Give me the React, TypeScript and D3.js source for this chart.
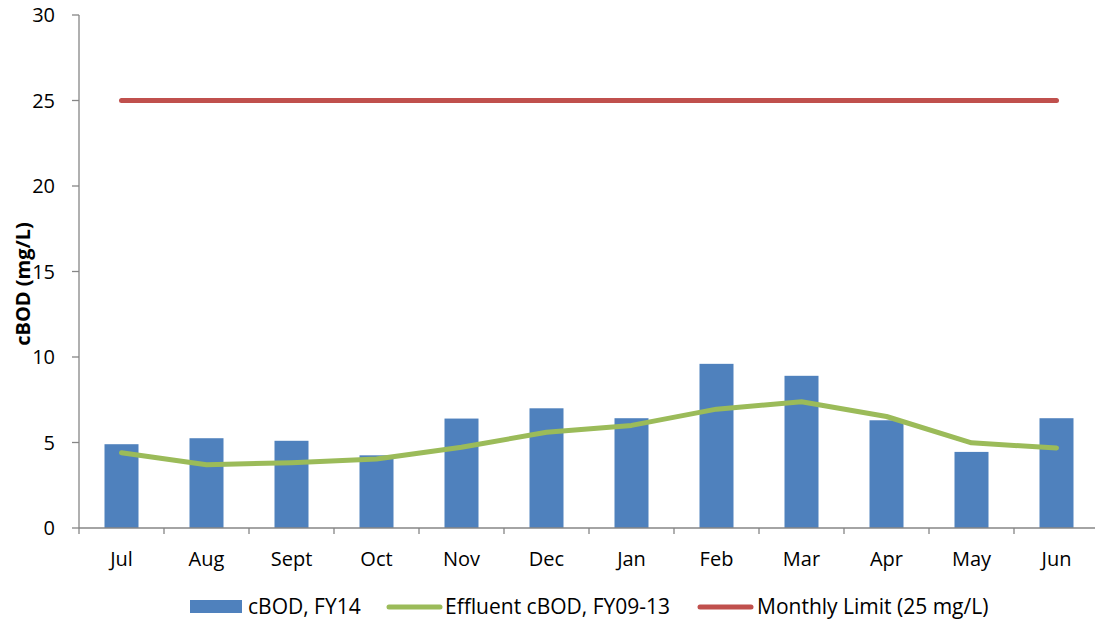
import React from "react";
import * as d3 from "d3";

const months = ["Jul", "Aug", "Sept", "Oct", "Nov", "Dec", "Jan", "Feb", "Mar", "Apr", "May", "Jun"];
const cbodFY14 = [4.9, 5.25, 5.1, 4.25, 6.4, 7.0, 6.42, 9.6, 8.9, 6.3, 4.45, 6.42];
const effluentFY0913 = [4.4, 3.7, 3.82, 4.04, 4.72, 5.6, 6.0, 6.95, 7.38, 6.52, 4.98, 4.68];
const monthlyLimit = [25, 25, 25, 25, 25, 25, 25, 25, 25, 25, 25, 25];
const yTicks = [0, 5, 10, 15, 20, 25, 30];
const legendLabels = ["cBOD, FY14", "Effluent cBOD, FY09-13", "Monthly Limit (25 mg/L)"];

const W = 1095;
const H = 631;
const FONT = "'Open Sans', 'Noto Sans', sans-serif";
const BLUE = "#4F81BD";
const GREEN = "#9BBB59";
const RED = "#C0504D";
const AXIS = "#868686";

export default function App() {
  const x = d3.scaleBand<string>().domain(months).range([79, 1099]).paddingInner(0.6).paddingOuter(0.3);
  const y = d3.scaleLinear().domain([0, 30]).range([528, 15]);
  const step = x.step();
  const cx = (m: string) => (x(m) as number) + x.bandwidth() / 2;

  const line = d3
    .line<number>()
    .x((_, i) => cx(months[i]))
    .y((d) => y(d));

  const boundaries = d3.range(months.length + 1).map((i) => 79 + i * step);

  return (
    <svg
      width={W}
      height={H}
      style={{ position: "absolute", left: 0, top: 0, background: "#fff" }}
      fontFamily={FONT}
    >
      {/* bars */}
      {cbodFY14.map((v, i) => (
        <rect key={i} x={x(months[i])} y={y(v)} width={x.bandwidth()} height={y(0) - y(v)} fill={BLUE} />
      ))}
      {/* y axis */}
      <line x1={79} x2={79} y1={y(30)} y2={y(0)} stroke={AXIS} strokeWidth={1.3} />
      {yTicks.map((t) => (
        <g key={t}>
          <line x1={72} x2={79} y1={y(t)} y2={y(t)} stroke={AXIS} strokeWidth={1.3} />
          <text x={55} y={y(t)} dy="0.36em" textAnchor="end" fontSize={20} fill="#000">
            {t}
          </text>
        </g>
      ))}
      {/* x axis */}
      <line x1={79} x2={W} y1={y(0)} y2={y(0)} stroke={AXIS} strokeWidth={1.3} />
      {boundaries.map((b, i) => (
        <line key={i} x1={b} x2={b} y1={y(0)} y2={y(0) + 6} stroke={AXIS} strokeWidth={1.3} />
      ))}
      {months.map((m) => (
        <text key={m} x={cx(m)} y={566} textAnchor="middle" fontSize={20} fill="#000">
          {m}
        </text>
      ))}
      {/* lines */}
      <path d={line(effluentFY0913) || ""} fill="none" stroke={GREEN} strokeWidth={5} strokeLinejoin="round" strokeLinecap="round" />
      <path d={line(monthlyLimit) || ""} fill="none" stroke={RED} strokeWidth={5} strokeLinejoin="round" strokeLinecap="round" />
      {/* y label */}
      <text
        transform={`translate(30, 284) rotate(-90)`}
        textAnchor="middle"
        fontSize={20}
        fontWeight="bold"
        fill="#000"
      >
        cBOD (mg/L)
      </text>
      {/* legend */}
      <rect x={190} y={600} width={52} height={13} fill={BLUE} />
      <text x={248} y={614} fontSize={21} fill="#000">{legendLabels[0]}</text>
      <line x1={389} x2={440} y1={607} y2={607} stroke={GREEN} strokeWidth={5} strokeLinecap="round" />
      <text x={445} y={614} fontSize={21} fill="#000">{legendLabels[1]}</text>
      <line x1={700} x2={751} y1={607} y2={607} stroke={RED} strokeWidth={5} strokeLinecap="round" />
      <text x={757} y={614} fontSize={21} fill="#000">{legendLabels[2]}</text>
    </svg>
  );
}
